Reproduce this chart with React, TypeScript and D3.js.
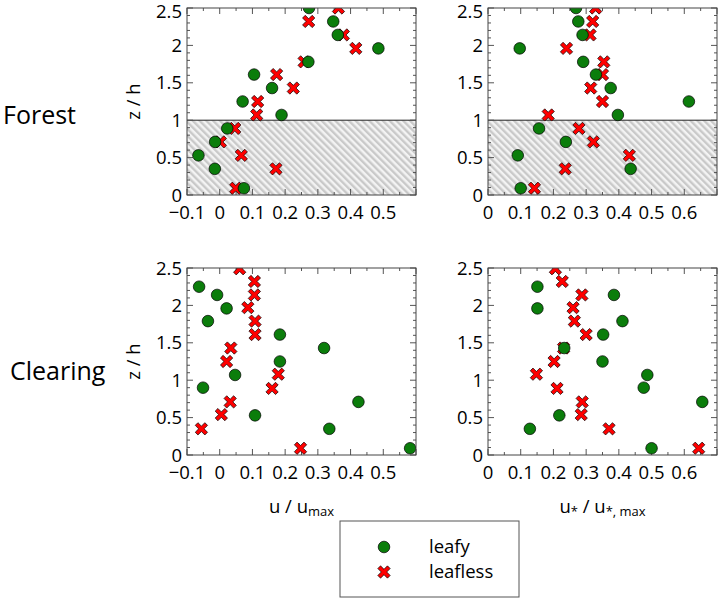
import React from 'react';
import * as d3 from 'd3';

// heights z/h of the measurement levels
const zForest = [0.09, 0.35, 0.53, 0.71, 0.89, 1.07, 1.25, 1.43, 1.61, 1.78, 1.96, 2.14, 2.32, 2.5];
const zClearLeafy = [0.09, 0.35, 0.53, 0.71, 0.9, 1.07, 1.25, 1.43, 1.61, 1.79, 1.96, 2.14, 2.25];
const zClearLeafless = [0.09, 0.35, 0.54, 0.71, 0.89, 1.08, 1.25, 1.43, 1.61, 1.79, 1.97, 2.14, 2.32, 2.49];

// u / u_max
const forestULeafy = [0.074, -0.015, -0.065, -0.014, 0.023, 0.189, 0.07, 0.16, 0.105, 0.271, 0.485, 0.361, 0.347, 0.273];
const forestULeafless = [0.049, 0.172, 0.066, 0.002, 0.046, 0.113, 0.116, 0.225, 0.174, 0.258, 0.416, 0.378, 0.272, 0.363];
const clearULeafy = [0.582, 0.335, 0.108, 0.424, -0.051, 0.047, 0.184, 0.319, 0.184, -0.036, 0.021, -0.008, -0.063];
const clearULeafless = [0.247, -0.056, 0.005, 0.032, 0.16, 0.179, 0.021, 0.034, 0.108, 0.108, 0.086, 0.106, 0.106, 0.061];

// u* / u*,max
const forestUsLeafy = [0.1, 0.436, 0.091, 0.238, 0.156, 0.397, 0.614, 0.375, 0.33, 0.291, 0.097, 0.289, 0.276, 0.269];
const forestUsLeafless = [0.142, 0.236, 0.432, 0.322, 0.278, 0.184, 0.35, 0.314, 0.35, 0.354, 0.24, 0.312, 0.32, 0.329];
const clearUsLeafy = [0.5, 0.128, 0.218, 0.655, 0.476, 0.487, 0.35, 0.233, 0.352, 0.411, 0.151, 0.385, 0.151];
const clearUsLeafless = [0.644, 0.37, 0.285, 0.288, 0.211, 0.148, 0.202, 0.231, 0.3, 0.264, 0.26, 0.287, 0.227, 0.206];

const rowLabels = ['Forest', 'Clearing'];
const seriesNames = ['leafy', 'leafless'];

const FONT = '"Open Sans", "Noto Sans", sans-serif';
const GREEN = '#0b7d0b';
const RED = '#ff0000';

// filled "X" marker as a d3 symbol type
const symbolFilledX = {
  draw(ctx: any, size: number) {
    const e = Math.sqrt(size) * 0.62;
    const a = e * 0.28;
    const pts = [
      [a, e], [a, a], [e, a], [e, -a], [a, -a], [a, -e],
      [-a, -e], [-a, -a], [-e, -a], [-e, a], [-a, a], [-a, e],
    ];
    const c = Math.SQRT1_2;
    pts.forEach(([x, y], i) => {
      const rx = (x - y) * c;
      const ry = (x + y) * c;
      if (i === 0) ctx.moveTo(rx, ry);
      else ctx.lineTo(rx, ry);
    });
    ctx.closePath();
  },
};
const xPath = d3.symbol().type(symbolFilledX as any).size(120)() as string;

const fmt = d3.format('.1~f');

type PanelProps = {
  id: string;
  left: number;
  top: number;
  xDomain: [number, number];
  leafyX: number[];
  leafyZ: number[];
  leaflessX: number[];
  leaflessZ: number[];
  canopy: boolean;
};

const W = 229;
const H = 187;
const TICK_FS = 18.5;

const Panel: React.FC<PanelProps> = ({ id, left, top, xDomain, leafyX, leafyZ, leaflessX, leaflessZ, canopy }) => {
  const x = d3.scaleLinear().domain(xDomain).range([0, W]);
  const y = d3.scaleLinear().domain([0, 2.5]).range([H, 0]);
  const eps = 1e-9;
  const xMajor = d3.range(Math.round(xDomain[0] * 10), Math.round(xDomain[1] * 10) + 1).map(d => d / 10);
  const xMinor = d3.range(Math.round(xDomain[0] * 20), Math.round(xDomain[1] * 20) + 1).map(d => d / 20);
  const yMajor = d3.range(0, 6).map(d => d / 2);
  const yMinor = d3.range(0, 26).map(d => d / 10);
  const tickColor = '#555';
  return (
    <g transform={`translate(${left},${top})`}>
      <defs>
        <clipPath id={`clip-${id}`}>
          <rect x={0} y={0} width={W} height={H} />
        </clipPath>
      </defs>
      <rect x={0} y={0} width={W} height={H} fill="#fff" />
      {canopy && (
        <g>
          <rect x={0} y={y(1)} width={W} height={y(0) - y(1)} fill="url(#hatch)" />
          <line x1={0} x2={W} y1={y(1)} y2={y(1)} stroke="#222" strokeWidth={1} />
        </g>
      )}
      {/* ticks on all four sides */}
      {xMinor.map(t => {
        const maj = xMajor.some(m => Math.abs(m - t) < eps);
        const L = maj ? 6 : 3;
        return (
          <g key={`xt${t}`} stroke={tickColor} strokeWidth={1}>
            <line x1={x(t)} x2={x(t)} y1={H} y2={H - L} />
            <line x1={x(t)} x2={x(t)} y1={0} y2={L} />
          </g>
        );
      })}
      {yMinor.map(t => {
        const maj = yMajor.some(m => Math.abs(m - t) < eps);
        const L = maj ? 6 : 3;
        return (
          <g key={`yt${t}`} stroke={tickColor} strokeWidth={1}>
            <line x1={0} x2={L} y1={y(t)} y2={y(t)} />
            <line x1={W} x2={W - L} y1={y(t)} y2={y(t)} />
          </g>
        );
      })}
      <g clipPath={`url(#clip-${id})`}>
        {leaflessX.map((v, i) => (
          <path key={`r${i}`} d={xPath} transform={`translate(${x(v)},${y(leaflessZ[i])})`}
            fill={RED} stroke="#000" strokeWidth={0.7} />
        ))}
        {leafyX.map((v, i) => (
          <circle key={`g${i}`} cx={x(v)} cy={y(leafyZ[i])} r={5.8}
            fill={GREEN} stroke="#000" strokeWidth={0.7} />
        ))}
      </g>
      <rect x={0} y={0} width={W} height={H} fill="none" stroke="#444" strokeWidth={1} />
      {xMajor.slice(0, -1).map(t => (
        <text key={`xl${t}`} x={x(t)} y={H + 24} textAnchor="middle" fontSize={TICK_FS} fontFamily={FONT} fill="#000">
          {fmt(t)}
        </text>
      ))}
      {yMajor.map(t => (
        <text key={`yl${t}`} x={-5} y={Math.max(y(t), 11.5 - top)} dy="0.36em" textAnchor="end"
          fontSize={TICK_FS} fontFamily={FONT} fill="#000">
          {fmt(t)}
        </text>
      ))}
    </g>
  );
};

const App: React.FC = () => {
  const cols = [187, 488];
  const rows = [8, 268];
  return (
    <svg width={720} height={599} style={{ position: 'absolute', left: 0, top: 0, background: '#fff' }}>
      <defs>
        <pattern id="hatch" width={4.8} height={4.8} patternUnits="userSpaceOnUse" patternTransform="rotate(-45)">
          <rect width={4.8} height={4.8} fill="#f3f3f3" />
          <line x1={1.2} x2={1.2} y1={0} y2={4.8} stroke="#c8c8c8" strokeWidth={2.3} />
        </pattern>
      </defs>

      <Panel id="tl" left={cols[0]} top={rows[0]} xDomain={[-0.1, 0.6]} canopy
        leafyX={forestULeafy} leafyZ={zForest} leaflessX={forestULeafless} leaflessZ={zForest} />
      <Panel id="tr" left={cols[1]} top={rows[0]} xDomain={[0, 0.7]} canopy
        leafyX={forestUsLeafy} leafyZ={zForest} leaflessX={forestUsLeafless} leaflessZ={zForest} />
      <Panel id="bl" left={cols[0]} top={rows[1]} xDomain={[-0.1, 0.6]} canopy={false}
        leafyX={clearULeafy} leafyZ={zClearLeafy} leaflessX={clearULeafless} leaflessZ={zClearLeafless} />
      <Panel id="br" left={cols[1]} top={rows[1]} xDomain={[0, 0.7]} canopy={false}
        leafyX={clearUsLeafy} leafyZ={zClearLeafy} leaflessX={clearUsLeafless} leaflessZ={zClearLeafless} />

      {/* row titles */}
      <text x={3} y={124} fontSize={25} fontFamily={FONT} fill="#000">{rowLabels[0]}</text>
      <text x={10} y={380} fontSize={25} fontFamily={FONT} fill="#000">{rowLabels[1]}</text>

      {/* y axis titles */}
      {rows.map(r => (
        <text key={`zh${r}`} transform={`translate(140,${r + H / 2}) rotate(-90)`} textAnchor="middle"
          fontSize={18.5} fontFamily={FONT} fill="#000">z / h</text>
      ))}

      {/* x axis titles */}
      <text x={cols[0] + W / 2} y={513} textAnchor="middle" fontSize={18.5} fontFamily={FONT} fill="#000">
        u / u<tspan fontSize={13} dy={3}>max</tspan>
      </text>
      <text x={cols[1] + W / 2} y={513} textAnchor="middle" fontSize={18.5} fontFamily={FONT} fill="#000">
        u<tspan fontSize={13} dy={3}>*</tspan><tspan dy={-3}> / u</tspan><tspan fontSize={13} dy={3}>*, max</tspan>
      </text>

      {/* legend */}
      <g>
        <rect x={340} y={521} width={179} height={76} fill="#fff" stroke="#555" strokeWidth={1} />
        <circle cx={384} cy={547} r={5.8} fill={GREEN} stroke="#000" strokeWidth={0.7} />
        <path d={xPath} transform="translate(384,572)" fill={RED} stroke="#000" strokeWidth={0.7} />
        <text x={429} y={553} fontSize={18.5} fontFamily={FONT} fill="#000">{seriesNames[0]}</text>
        <text x={429} y={578} fontSize={18.5} fontFamily={FONT} fill="#000">{seriesNames[1]}</text>
      </g>
    </svg>
  );
};

export default App;
